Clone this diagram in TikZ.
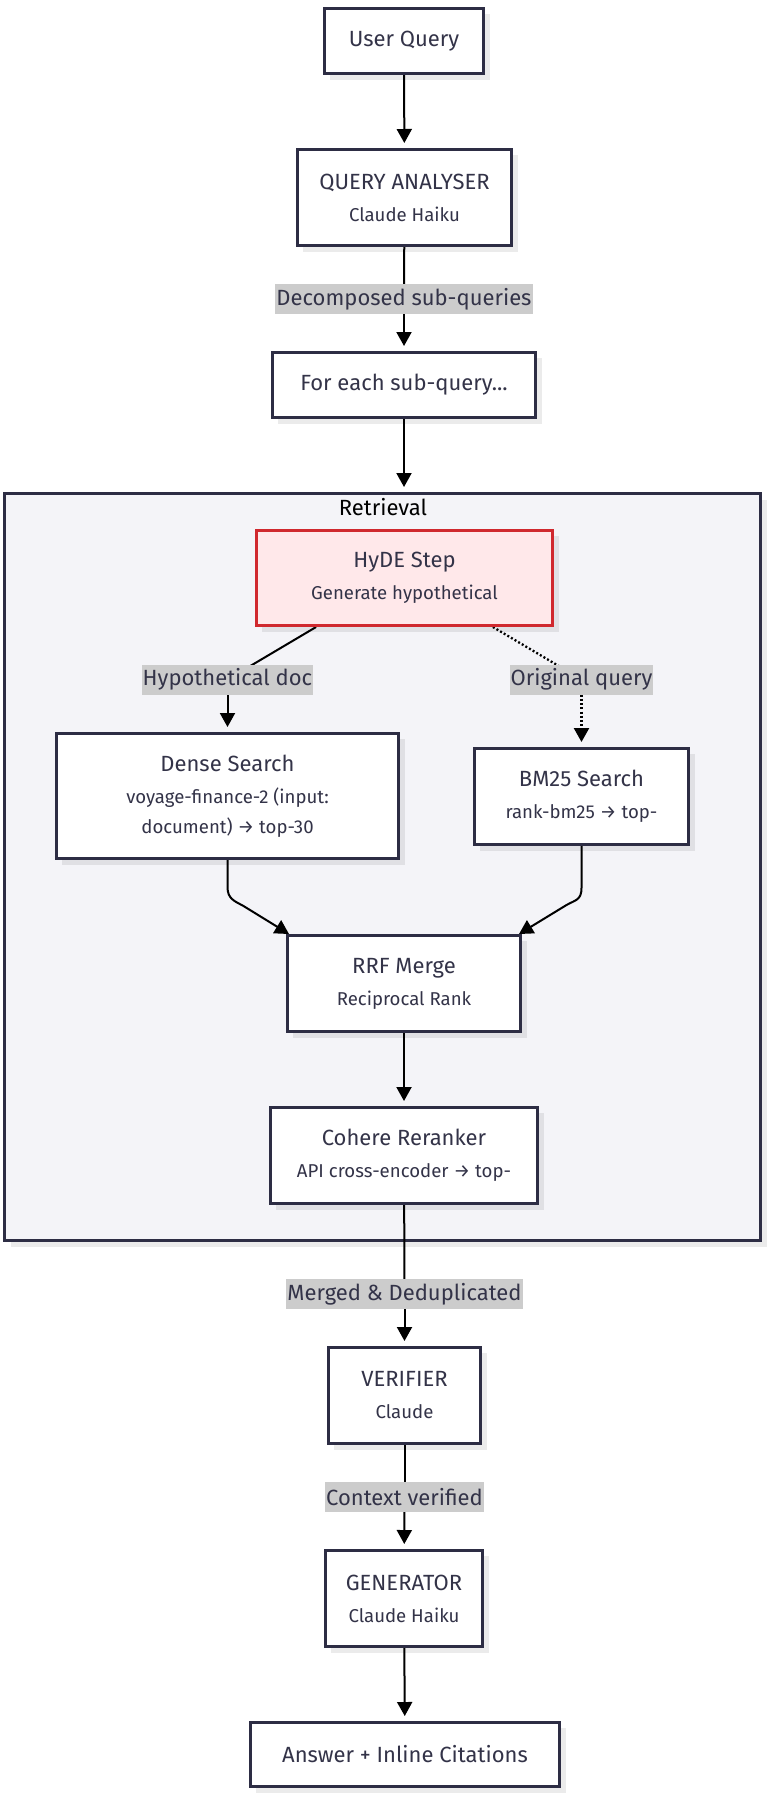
\documentclass[tikz,border=0pt]{standalone}
\usepackage{fontspec}
\setmainfont{Fira Sans}
\usetikzlibrary{arrows.meta,shadows,calc}

\definecolor{ink}{HTML}{2D2D44}
\definecolor{txt}{HTML}{333348}
\definecolor{panel}{HTML}{F4F4F8}
\definecolor{hydefill}{HTML}{FFE8EA}
\definecolor{hydeline}{HTML}{D0282E}
\definecolor{lblbg}{HTML}{CCCCCC}

\newcommand\mainsz{\fontsize{22}{32}\selectfont}
\newcommand\subsz{\fontsize{18.6}{31}\selectfont}

\pgfdeclarelayer{back}
\pgfdeclarelayer{edges}
\pgfsetlayers{back,edges,main}

\begin{document}
\begin{tikzpicture}[x=1pt,y=-1pt,
  box/.style={draw=ink, line width=2.6pt, fill=white, text=txt, align=center,
    inner sep=0pt, font=\mainsz,
    drop shadow={shadow xshift=6pt, shadow yshift=-6pt, fill=black, opacity=0.08}},
  hydebox/.style={box, draw=hydeline, fill=hydefill},
  lbl/.style={fill=lblbg, text=txt, font=\mainsz, inner xsep=1pt, inner ysep=0pt,
    minimum height=30pt},
  link/.style={line width=2pt, draw=black},
  arr/.style={link, -{Triangle[length=14pt,width=15pt]}, shorten >=5pt},
  tiparr/.style={link, -{Triangle[length=14pt,width=15pt]}},
  dots/.style={dash pattern=on 2pt off 2.2pt, line width=2.3pt}]

\useasboundingbox (0,0) rectangle (767,1796);

% retrieval panel
\begin{pgfonlayer}{back}
  \fill[white] (0,0) rectangle (767,1796);
  \node[draw=ink, line width=3pt, fill=panel, minimum width=756pt, minimum height=747pt,
    drop shadow={shadow xshift=6pt, shadow yshift=-6pt, fill=black, opacity=0.08}]
    (retr) at (382.7,867) {};
\end{pgfonlayer}
\node[font=\mainsz, text=black] (title) at (383,507) {Retrieval};

% process steps
\node[box, minimum width=159.4pt, minimum height=65.4pt] (uq) at (404,41) {User Query};
\node[box, minimum width=214.4pt, minimum height=96.4pt] (qa) at (404.5,197.5)
  {QUERY ANALYSER\\{\subsz Claude Haiku}};
\node[box, minimum width=263.4pt, minimum height=65.4pt] (fe) at (404,385) {For each sub-query...};
\node[hydebox, minimum width=296.4pt, minimum height=95.4pt] (hyde) at (404.5,578)
  {HyDE Step\\{\subsz Generate hypothetical}};
\node[box, minimum width=342.4pt, minimum height=125.4pt] (dense) at (227.5,796)
  {Dense Search\\{\subsz voyage-finance-2 (input:}\\[-2pt]{\subsz document) → top-30}};
\node[box, minimum width=214.4pt, minimum height=96.4pt] (bm25) at (581.5,796.5)
  {BM25 Search\\{\subsz rank-bm25 → top-}};
\node[box, minimum width=233.4pt, minimum height=96.4pt] (rrf) at (404,983.5)
  {RRF Merge\\{\subsz Reciprocal Rank}};
\node[box, minimum width=267.4pt, minimum height=96.4pt] (cohere) at (404,1155.5)
  {Cohere Reranker\\{\subsz API cross-encoder → top-}};
\node[box, minimum width=152.4pt, minimum height=96.4pt] (ver) at (404.5,1395.5)
  {VERIFIER\\{\subsz Claude}};
\node[box, minimum width=157.4pt, minimum height=96.4pt] (gen) at (404,1598.5)
  {GENERATOR\\{\subsz Claude Haiku}};
\node[box, minimum width=309.4pt, minimum height=64.4pt] (ans) at (405,1754.5)
  {Answer + Inline Citations};

% edge labels
\node[lbl] (l1) at (404,299) {Decomposed sub-queries};
\node[lbl] (l2) at (227.5,679.5) {Hypothetical doc};
\node[lbl] (l3) at (581.5,679.5) {Original query};
\node[lbl] (l4) at (404.5,1294) {Merged \& Deduplicated};
\node[lbl] (l5) at (404.5,1497) {Context verified};

% connectors
\coordinate (rrfL) at ([xshift=3pt]rrf.north west);
\coordinate (rrfR) at ([xshift=-3pt]rrf.north east);
\begin{pgfonlayer}{edges}
  \draw[arr] (uq) -- (qa);
  \draw[link] (qa) -- (l1);
  \draw[arr] (l1) -- (fe);
  \draw[arr] (fe.south) -- (fe.south |- retr.north);
  \draw[link] (hyde.209.5) -- (l2.center);
  \draw[arr] (l2) -- (dense);
  \draw[link, dots] (hyde.-29.5) -- (l3.center);
  \draw[arr, dots] (l3) -- (bm25);
  \draw[tiparr] (dense.south) -- ++(0,27) .. controls +(0,12) and +(-9,-5) .. ++(16,19) -- (rrfL);
  \draw[tiparr] (bm25.south) -- ++(0,42) .. controls +(0,12) and +(9,-5) .. ++(-15,17) -- (rrfR);
  \draw[arr] (rrf) -- (cohere);
  \draw[link] (cohere) -- (l4);
  \draw[arr] (l4) -- (ver);
  \draw[link] (ver) -- (l5);
  \draw[arr] (l5) -- (gen);
  \draw[arr] (gen) -- (ans);
\end{pgfonlayer}
\end{tikzpicture}
\end{document}
